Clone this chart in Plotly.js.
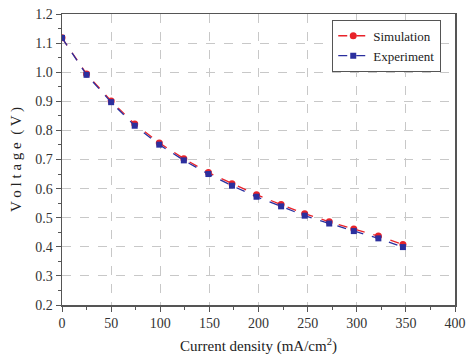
<!DOCTYPE html>
<html>
<head>
<meta charset="utf-8">
<script src="https://cdn.plot.ly/plotly-3.0.1.min.js"></script>
<style>html,body{margin:0;padding:0;background:#fff;}#chart{width:466px;height:363px;}</style>
</head>
<body>
<div id="chart"></div>
<script>
const currentDensity = [0, 25, 50, 74, 99, 124, 149, 173, 198, 223, 247, 272, 297, 322, 347];
const simulation = [1.118, 0.994, 0.901, 0.822, 0.757, 0.703, 0.655, 0.617, 0.579, 0.545, 0.514, 0.486, 0.461, 0.437, 0.408];
const experiment = [1.118, 0.991, 0.897, 0.816, 0.751, 0.697, 0.650, 0.610, 0.572, 0.539, 0.507, 0.480, 0.454, 0.429, 0.399];
const xTicks = [0, 50, 100, 150, 200, 250, 300, 350, 400];
const yTicks = [0.2, 0.3, 0.4, 0.5, 0.6, 0.7, 0.8, 0.9, 1.0, 1.1, 1.2];

const serif = 'Liberation Serif, Times New Roman, serif';
const font = {family: serif, size: 14, color: '#333'};

const traces = [
  {x: currentDensity, y: simulation, name: 'Simulation', mode: 'lines+markers',
   line: {color: '#e8232a', width: 1.3, dash: 'dash'},
   marker: {symbol: 'circle', size: 7, color: '#e8232a'}},
  {x: currentDensity, y: experiment, name: 'Experiment', mode: 'lines+markers',
   line: {color: '#2b2f9e', width: 1.3, dash: 'dash'},
   marker: {symbol: 'square', size: 6, color: '#2b2f9e'}}
];

const axisCommon = {
  showline: true, linecolor: '#555', linewidth: 1.5, mirror: true,
  ticks: 'outside', ticklen: 5, tickcolor: '#555', tickwidth: 1,
  showgrid: true, gridcolor: '#c8c8c8', griddash: 'dash', gridwidth: 1,
  zeroline: false, tickfont: font
};

const layout = {
  width: 466, height: 363,
  margin: {l: 62, r: 11, t: 14, b: 58},
  paper_bgcolor: '#fff', plot_bgcolor: '#fff',
  font: font,
  showlegend: true,
  legend: {x: 0.965, y: 0.98, xanchor: 'right', yanchor: 'top',
           bordercolor: '#555', borderwidth: 1, bgcolor: '#fff',
           font: {family: serif, size: 13, color: '#222'},
           tracegroupgap: 0, itemwidth: 30},
  xaxis: Object.assign({}, axisCommon, {
    range: [0, 400], tickvals: xTicks, ticktext: xTicks.map(String),
    minor: {dtick: 25, ticks: 'outside', ticklen: 3, tickcolor: '#555', showgrid: false},
    title: {text: 'Current density (mA/cm<sup>2</sup>)', font: {family: serif, size: 15, color: '#222'}, standoff: 10}
  }),
  yaxis: Object.assign({}, axisCommon, {
    range: [0.2, 1.2], tickvals: yTicks, ticktext: yTicks.map(v => v.toFixed(1)),
    minor: {dtick: 0.05, ticks: 'outside', ticklen: 3, tickcolor: '#555', showgrid: false},
    title: {text: 'V o l t a g e  ( V )', font: {family: serif, size: 15, color: '#222'}, standoff: 10}
  })
};

Plotly.newPlot('chart', traces, layout, {displayModeBar: false, staticPlot: true});
</script>
</body>
</html>
